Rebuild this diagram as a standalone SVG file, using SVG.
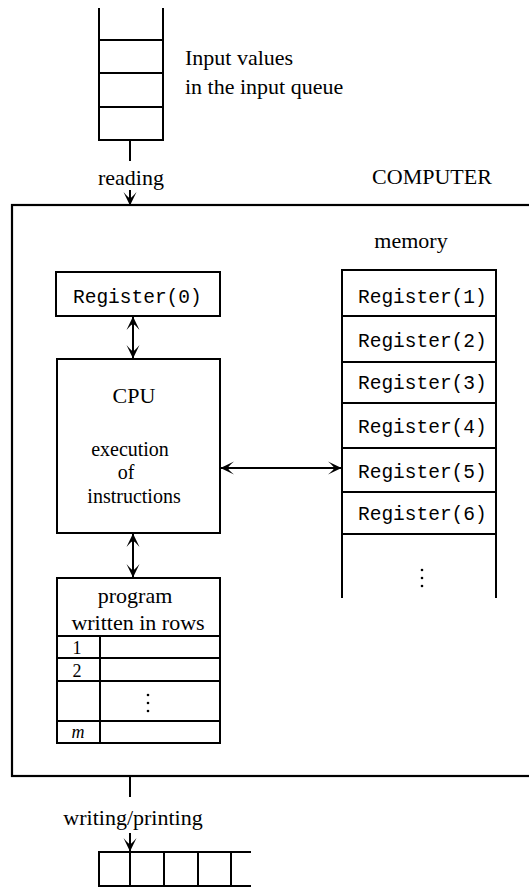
<svg xmlns="http://www.w3.org/2000/svg" width="529" height="887" viewBox="0 0 529 887">
<style>
.ln{fill:none;stroke:#000;stroke-width:2}
.bx{fill:none;stroke:#000;stroke-width:2}
.cb{fill:none;stroke:#000;stroke-width:2.2}
.t{font-family:"Liberation Serif","Times New Roman",serif;font-size:22px;fill:#000}
.s{font-size:20px}
.n{font-size:18px}
.m{font-family:"Liberation Mono","Courier New",monospace;font-size:19.5px;fill:#000}
.c{text-anchor:middle}
</style>
<defs>
<marker id="ah" viewBox="-14 -7 15 14" refX="0" refY="0" markerWidth="15" markerHeight="14" markerUnits="userSpaceOnUse" orient="auto-start-reverse">
<path d="M0.5,0 L-13,-6.5 Q-7,-1.5 -7,0 Q-7,1.5 -13,6.5 Z" fill="#000"/>
</marker>
</defs>
<rect width="529" height="887" fill="#fff"/>
<g id="input-queue">
<path class="ln" d="M99,8 V140 H163 V8 M99,40 H163 M99,73 H163 M99,107 H163"/>
<text class="t" x="185" y="65">Input values</text>
<text class="t" x="185" y="94">in the input queue</text>
</g>
<g id="computer">
<rect class="cb" x="12" y="205" width="530" height="571"/>
<text class="t c" x="432" y="184">COMPUTER</text>
</g>
<g id="register0">
<rect class="bx" x="56" y="272" width="164" height="44"/>
<text class="m" x="73" y="303">Register(0)</text>
</g>
<g id="cpu">
<rect class="bx" x="57" y="359" width="163" height="174"/>
<text class="t c" x="134" y="403">CPU</text>
<text class="t s c" x="130" y="456">execution</text>
<text class="t s c" x="126" y="479">of</text>
<text class="t s c" x="134" y="503">instructions</text>
</g>
<g id="memory">
<text class="t c" x="411" y="248">memory</text>
<path class="ln" d="M342,598 V270 H496 V598 M342,316 H496 M342,362 H496 M342,403 H496 M342,448 H496 M342,492 H496 M342,534 H496"/>
<text class="m" x="358" y="303">Register(1)</text>
<text class="m" x="358" y="347">Register(2)</text>
<text class="m" x="358" y="389">Register(3)</text>
<text class="m" x="358" y="433">Register(4)</text>
<text class="m" x="358" y="478">Register(5)</text>
<text class="m" x="358" y="520">Register(6)</text>
<g fill="#000"><circle cx="422" cy="570" r="1.3"/><circle cx="422" cy="578" r="1.3"/><circle cx="422" cy="586" r="1.3"/></g>
</g>
<g id="program">
<rect class="bx" x="57" y="578" width="163" height="165"/>
<text class="t c" x="135" y="603">program</text>
<text class="t c" x="138" y="630">written in rows</text>
<path class="ln" d="M57,636 H220 M57,658 H220 M57,681 H220 M57,721 H220 M100,636 V743"/>
<text class="t n c" x="77" y="654">1</text>
<text class="t n c" x="77" y="677">2</text>
<g fill="#000"><circle cx="148" cy="695" r="1.3"/><circle cx="148" cy="703" r="1.3"/><circle cx="148" cy="711" r="1.3"/></g>
<text class="t n c" x="78" y="738" font-style="italic">m</text>
</g>
<g id="output-tape">
<path class="ln" d="M251,852 H99 V886 H251 M130,852 V886 M164,852 V886 M198,852 V886 M231,852 V886"/>
</g>
<g id="connectors">
<path class="ln" d="M130,140 V161"/>
<text class="t c" x="131" y="185">reading</text>
<path class="ln" d="M130,190 V205" marker-end="url(#ah)"/>
<path class="ln" d="M133,317 V358" marker-start="url(#ah)" marker-end="url(#ah)"/>
<path class="ln" d="M221,468 H341" marker-start="url(#ah)" marker-end="url(#ah)"/>
<path class="ln" d="M133,534 V577" marker-start="url(#ah)" marker-end="url(#ah)"/>
<path class="ln" d="M130,777 V797"/>
<text class="t c" x="133" y="825">writing/printing</text>
<path class="ln" d="M130,833 V851" marker-end="url(#ah)"/>
</g>
</svg>
